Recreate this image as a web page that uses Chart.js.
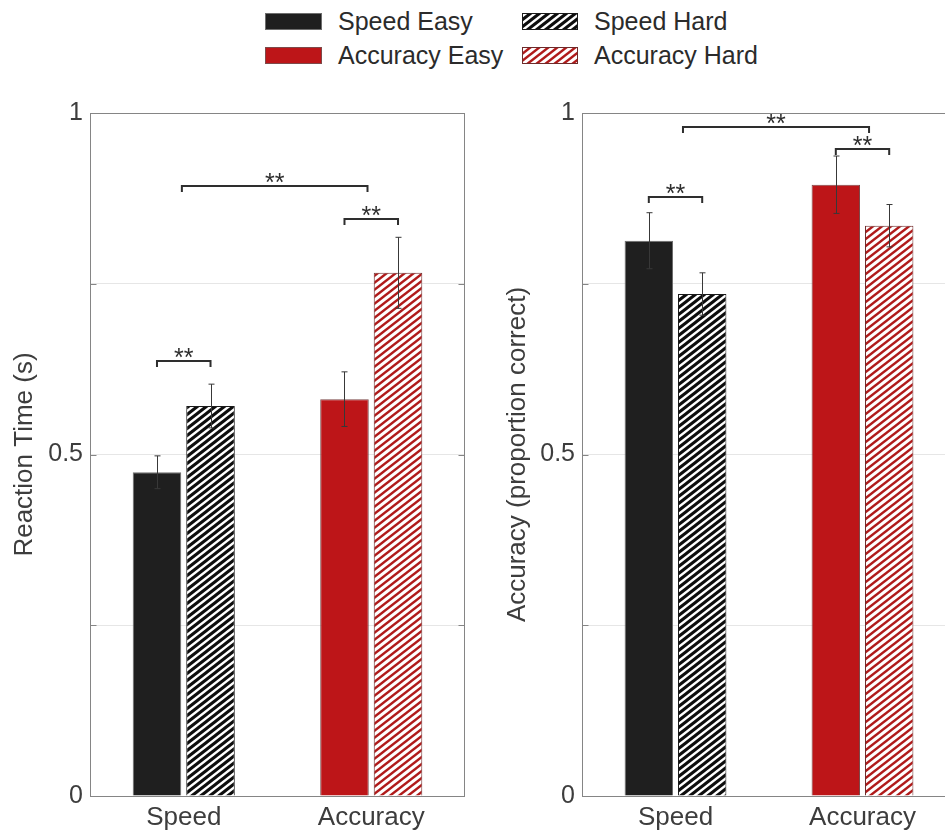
<!DOCTYPE html>
<html>
<head>
<meta charset="utf-8">
<script src="https://cdn.jsdelivr.net/npm/chart.js@4.4.1/dist/chart.umd.min.js"></script>
<style>
  html, body { margin: 0; padding: 0; width: 945px; height: 832px; overflow: hidden; background: #fff; }
  #rtChart { position: absolute; left: 0; top: 0; }
  #accChart { position: absolute; left: 480px; top: 0; }
  .lg { position: absolute; display: flex; align-items: center; height: 34px;
        font: 25px "Liberation Sans", Arial, sans-serif; color: #2b2b2b; white-space: nowrap; }
  .lg canvas { margin-right: 16px; display: block; }
</style>
</head>
<body>
<div class="lg" style="left:265px; top:4px"><canvas id="sw0" width="57" height="17"></canvas><span id="lg0"></span></div>
<div class="lg" style="left:522px; top:4px"><canvas id="sw1" width="56" height="17"></canvas><span id="lg1"></span></div>
<div class="lg" style="left:265px; top:38px"><canvas id="sw2" width="57" height="17"></canvas><span id="lg2"></span></div>
<div class="lg" style="left:522px; top:38px"><canvas id="sw3" width="56" height="17"></canvas><span id="lg3"></span></div>
<canvas id="rtChart" width="480" height="832"></canvas>
<canvas id="accChart" width="480" height="832"></canvas>
<script>
// ---- data ----
const groups = ['Speed', 'Accuracy'];
const conditions = ['Speed Easy', 'Speed Hard', 'Accuracy Easy', 'Accuracy Hard'];
const conditionGroup = [0, 0, 1, 1];

const rtMean = [0.474, 0.571, 0.581, 0.766];
const rtErr  = [0.024, 0.032, 0.040, 0.052];
const accMean = [0.813, 0.735, 0.895, 0.835];
const accErr  = [0.041, 0.031, 0.042, 0.031];

const yTickLabels = [0, 0.5, 1];

// significance brackets between two conditions: [condition a, condition b, height]
const rtPairs  = [[0, 1, 0.637], [2, 3, 0.845]];
const accPairs = [[0, 1, 0.877], [2, 3, 0.947]];
// bracket between the two groups: [from category, to category, height]
const rtGroupBracket  = [-0.01, 0.98, 0.893];
const accGroupBracket = [0.04, 1.035, 0.980];
const sigLabel = '**';

// ---- styles ----
const FONT = '"Liberation Sans", Arial, sans-serif';
const TEXT = '#3d3d3d';

function hatch(stripe, thick) {
  const W = 9, H = 7;
  const c = document.createElement('canvas');
  c.width = W; c.height = H;
  const g = c.getContext('2d');
  g.fillStyle = '#ffffff';
  g.fillRect(0, 0, W, H);
  const ang = Math.atan(H / W);
  g.strokeStyle = stripe;
  g.lineWidth = thick * Math.cos(ang);
  for (let k = -2; k <= 3; k++) {
    g.beginPath();
    g.moveTo(-W, k * H + H);
    g.lineTo(2 * W, k * H - 2 * H);
    g.stroke();
  }
  return c;
}

const hatchBlack = hatch('#0d0d0d', 3.9);
const hatchRed = hatch('#b01a1a', 3.1);

const ctx0 = document.createElement('canvas').getContext('2d');
const fills = [
  '#1f1f1f',
  ctx0.createPattern(hatchBlack, 'repeat'),
  '#bd1518',
  ctx0.createPattern(hatchRed, 'repeat')
];
const borders = ['#6e6e6e', '#1a1a1a', '#7d4a4a', '#6e2a2a'];

// ---- legend ----
conditions.forEach((name, i) => {
  document.getElementById('lg' + i).textContent = name;
  const cv = document.getElementById('sw' + i);
  const g = cv.getContext('2d');
  if (typeof fills[i] === 'string') {
    g.fillStyle = fills[i];
  } else {
    g.fillStyle = g.createPattern(i === 1 ? hatchBlack : hatchRed, 'repeat');
  }
  g.fillRect(0, 0, cv.width, cv.height);
  g.strokeStyle = borders[i];
  g.lineWidth = 1;
  g.strokeRect(0.5, 0.5, cv.width - 1, cv.height - 1);
});

// ---- frame, error bars and significance brackets ----
const decor = {
  id: 'decor',
  afterDatasetsDraw(chart, args, o) {
    const { ctx, chartArea: a, scales: { x, y } } = chart;
    const line = (x1, y1, x2, y2) => { ctx.beginPath(); ctx.moveTo(x1, y1); ctx.lineTo(x2, y2); ctx.stroke(); };
    ctx.save();

    // error bars
    ctx.strokeStyle = '#383838';
    ctx.lineWidth = 1;
    chart.data.datasets.forEach((ds, i) => {
      const meta = chart.getDatasetMeta(i);
      ds.data.forEach((v, j) => {
        if (v == null) return;
        const bx = Math.round(meta.data[j].x) + 0.5;
        const top = y.getPixelForValue(v + o.errs[i]);
        const bot = y.getPixelForValue(v - o.errs[i]);
        line(bx, top, bx, bot);
        line(bx - 3, top, bx + 3, top);
        line(bx - 3, bot, bx + 3, bot);
      });
    });

    // frame
    ctx.strokeStyle = '#858585';
    ctx.lineWidth = 1;
    const L = Math.round(a.left) + 0.5, R = Math.round(a.right) - 0.5;
    const T = Math.round(a.top) + 0.5, B = Math.round(a.bottom) + 0.5;
    ctx.strokeRect(L, T, R - L, B - T);
    y.ticks.forEach(t => {
      const py = Math.round(y.getPixelForValue(t.value)) + 0.5;
      line(L, py, L + 6, py);
      line(R - 6, py, R, py);
    });

    // brackets
    const barX = (i) => {
      const meta = chart.getDatasetMeta(i);
      const j = conditionGroup[i];
      return meta.data[j].x;
    };
    ctx.strokeStyle = '#2e2e2e';
    ctx.lineWidth = 2;
    ctx.fillStyle = '#2e2e2e';
    ctx.font = '25px ' + FONT;
    ctx.textAlign = 'center';
    ctx.textBaseline = 'alphabetic';
    const bracket = (x1, x2, v) => {
      const py = Math.round(y.getPixelForValue(v));
      ctx.beginPath();
      ctx.moveTo(x1, py + 6);
      ctx.lineTo(x1, py);
      ctx.lineTo(x2, py);
      ctx.lineTo(x2, py + 6);
      ctx.stroke();
      const m = ctx.measureText(sigLabel);
      ctx.fillText(sigLabel, (x1 + x2) / 2, py - 3 - m.actualBoundingBoxDescent);
    };
    o.pairs.forEach(([p, q, v]) => bracket(barX(p), barX(q), v));
    const [g1, g2, gv] = o.group;
    bracket(x.getPixelForValue(g1), x.getPixelForValue(g2), gv);

    ctx.restore();
  }
};

function makeChart(id, means, errs, pairs, group, title, axisWidth, titlePad, rightPad) {
  const datasets = conditions.map((name, i) => ({
    label: name,
    data: groups.map((g, j) => (conditionGroup[i] === j ? means[i] : null)),
    backgroundColor: fills[i],
    borderColor: borders[i],
    borderWidth: 1,
    categoryPercentage: 0.571,
    barPercentage: 0.907
  }));
  return new Chart(document.getElementById(id), {
    type: 'bar',
    data: { labels: groups, datasets },
    options: {
      responsive: false,
      animation: false,
      devicePixelRatio: 1,
      skipNull: true,
      layout: { padding: { top: 113, right: rightPad, left: 0, bottom: 0 } },
      plugins: {
        legend: { display: false },
        tooltip: { enabled: false },
        decor: { errs, pairs, group }
      },
      scales: {
        x: {
          grid: { display: false, drawTicks: false },
          border: { display: false },
          ticks: { color: TEXT, font: { family: FONT, size: 26 }, padding: 6 },
          afterFit: (s) => { s.height = 36; }
        },
        y: {
          min: 0, max: 1,
          grid: { color: '#e6e6e6', drawTicks: false },
          border: { display: false },
          ticks: {
            stepSize: 0.25,
            color: TEXT,
            font: { family: FONT, size: 25 },
            padding: 7,
            callback: (v) => (yTickLabels.some(t => Math.abs(t - v) < 1e-9) ? String(v) : '')
          },
          title: {
            display: true,
            text: title,
            color: TEXT,
            font: { family: FONT, size: 26 },
            padding: { top: titlePad, bottom: 0 }
          },
          afterFit: (s) => { s.width = axisWidth; }
        }
      }
    },
    plugins: [decor]
  });
}

makeChart('rtChart', rtMean, rtErr, rtPairs, rtGroupBracket, 'Reaction Time (s)', 90, 9, 15);
makeChart('accChart', accMean, accErr, accPairs, accGroupBracket, 'Accuracy (proportion correct)', 102, 22, 4);
</script>
</body>
</html>
